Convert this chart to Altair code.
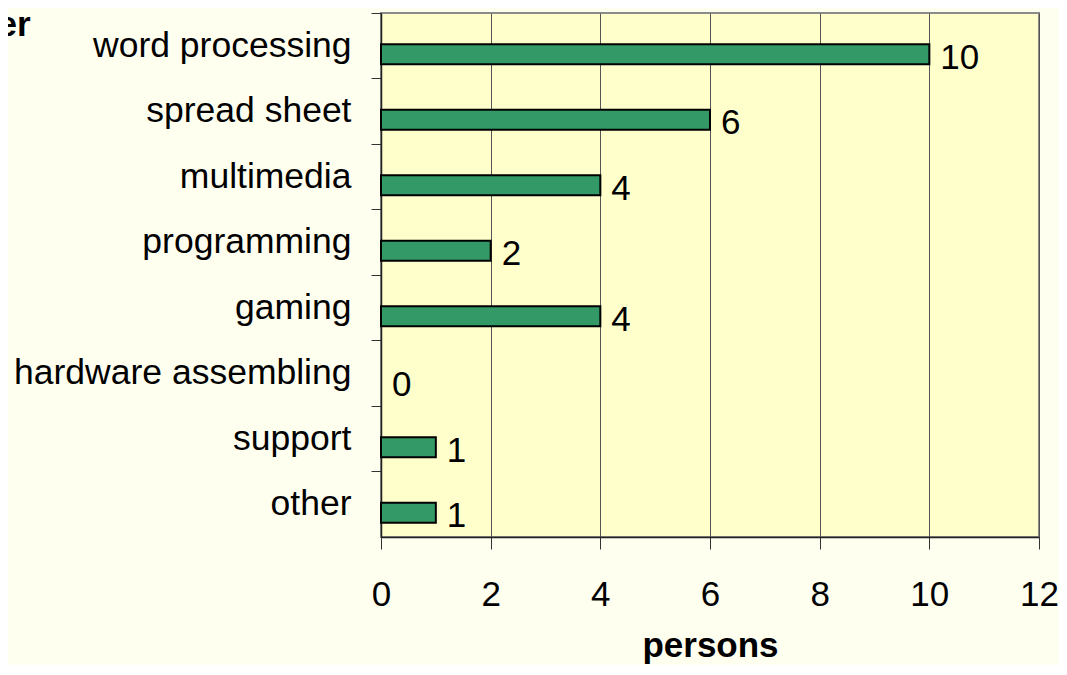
import altair as alt
import pandas as pd

categories = ["word processing", "spread sheet", "multimedia", "programming",
              "gaming", "hardware assembling", "support", "other"]
values = [10, 6, 4, 2, 4, 0, 1, 1]
x_ticks = [0, 2, 4, 6, 8, 10, 12]

df = pd.DataFrame({"category": categories, "persons": values})

FONT = "Liberation Sans"

y_enc = alt.Y(
    "category:N",
    sort=categories,
    scale=alt.Scale(domain=categories, paddingInner=0, paddingOuter=0),
    axis=alt.Axis(
        title="computer",
        titleAngle=0,
        titleAlign="right",
        titleBaseline="alphabetic",
        titleX=-351,
        titleY=22,
        titleFont=FONT,
        titleFontSize=35,
        titleFontWeight="bold",
        titleColor="black",
        labelFont=FONT,
        labelFontSize=35.5,
        labelColor="black",
        labelPadding=20,
        labelLimit=0,
        tickSize=10,
        tickColor="#333333",
        tickWidth=1,
        bandPosition=0,
        domainColor="#222222",
        domainWidth=1.5,
        grid=False,
    ),
)

x_enc = alt.X(
    "persons:Q",
    scale=alt.Scale(domain=[0, 12], nice=False),
    axis=alt.Axis(
        title="persons",
        values=x_ticks,
        format="d",
        labelFlush=False,
        titleFont=FONT,
        titleFontSize=35,
        titleFontWeight="bold",
        titleColor="black",
        titlePadding=16,
        labelFont=FONT,
        labelFontSize=35,
        labelColor="black",
        labelPadding=28,
        tickSize=12,
        tickColor="#333333",
        tickWidth=1,
        domainColor="#222222",
        domainWidth=1.5,
        grid=True,
        gridColor="#555555",
        gridWidth=1,
    ),
)

bars = alt.Chart(df).transform_filter(
    alt.datum.persons > 0
).mark_bar(
    size=20, yOffset=8.5, color="#339966", stroke="black", strokeWidth=2
).encode(x=x_enc, y=y_enc)

labels = alt.Chart(df).mark_text(
    align="left", baseline="middle", dx=11, yOffset=12,
    font=FONT, fontSize=35, color="black"
).encode(
    x=alt.X("persons:Q"),
    y=alt.Y("category:N", sort=categories),
    text="persons:Q",
)

chart = alt.layer(bars, labels).properties(
    width=658,
    height=524,
    autosize=alt.AutoSizeParams(type="none"),
    padding={"left": 373, "top": 5, "right": 20, "bottom": 128},
    background="#FFFFF0",
).configure_view(
    fill="#FFFFCC",
    stroke="#8c8c8c",
    strokeWidth=2,
)

chart.save("out.html", embed_options={"renderer": "svg", "actions": False})
